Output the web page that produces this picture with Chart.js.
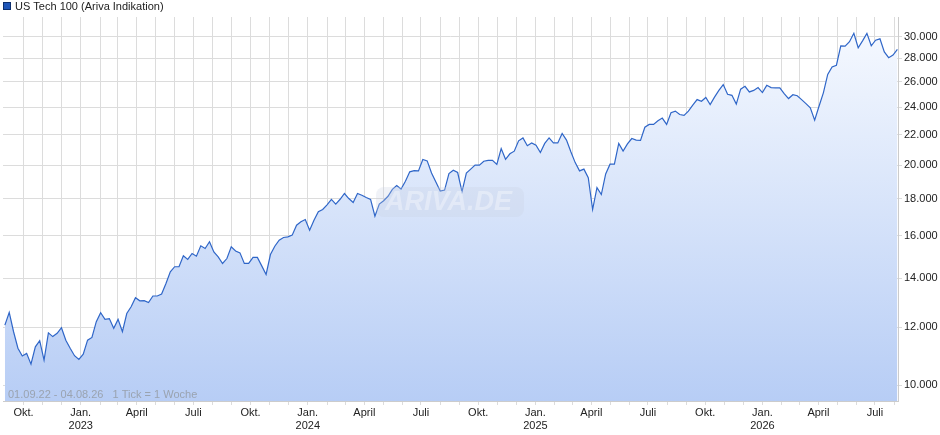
<!DOCTYPE html>
<html><head><meta charset="utf-8">
<script src="https://cdn.jsdelivr.net/npm/chart.js@4/dist/chart.umd.min.js"></script>
<style>html,body{margin:0;padding:0;background:#fff}#w{width:940px;height:435px}</style>
</head><body><div id="w"><canvas id="c"></canvas></div>
<script>
const startDate = '2022-09-01';
const weekStepDays = 7;
const values = [12080,12570,11830,11230,10960,11050,10680,11280,11500,10820,11790,11650,11770,11980,11520,11230,10970,10840,11020,11520,11620,12210,12560,12300,12330,11960,12300,11830,12530,12800,13170,13040,13050,12970,13240,13240,13320,13770,14290,14520,14520,15030,14860,15140,15010,15510,15380,15710,15210,14980,14670,14900,15460,15260,15170,14670,14670,14950,14950,14560,14170,15090,15490,15790,15920,15950,16040,16550,16730,16850,16290,16810,17270,17390,17650,17950,17690,17960,18290,18000,17780,18290,18190,18060,17950,17030,17690,17880,18130,18530,18750,18550,19010,19580,19660,19640,20360,20270,19510,18970,18430,18490,19480,19680,19540,18400,19510,19750,20000,20000,20250,20300,20300,20040,21070,20370,20730,20900,21590,21790,21260,21450,21290,20810,21420,21790,21450,21450,22100,21640,20860,20160,19640,19750,19220,17390,18630,18230,19450,20060,20060,21420,20900,21380,21750,21640,21620,22540,22740,22740,23000,23200,22740,23590,23710,23460,23390,23710,24170,24590,24460,24750,24210,24780,25310,25780,25000,24920,24240,25410,25640,25190,25310,25540,25140,25720,25540,25510,25510,25060,24670,24970,24890,24590,24280,23960,23050,24080,25120,26620,27260,27400,29130,29100,29510,30300,28950,29590,30300,29130,29650,29780,28570,28060,28290,28810];
const yTicks = [10000,12000,14000,16000,18000,20000,22000,24000,26000,28000,30000];
const monthNames = ['Jan.','Feb.','März','April','Mai','Juni','Juli','Aug.','Sep.','Okt.','Nov.','Dez.'];
const labeledMonths = [0,3,6,9];
const seriesName = 'US Tech 100 (Ariva Indikation)';
const rangeText = '01.09.22 - 04.08.26   1 Tick = 1 Woche';

const t0 = Date.UTC(2022,8,1);
const pts = values.map((v,i)=>({x:i*weekStepDays, y:v}));
const monthTicks = [];
for(let y=2022;y<=2026;y++)for(let m=0;m<12;m++){
  const d=(Date.UTC(y,m,1)-t0)/86400000;
  if(d>0&&d<1440) monthTicks.push({value:d, m, y});
}
const deco = {
  id:'deco',
  beforeDraw(ch){
    const c=ch.ctx;c.save();c.fillStyle='#fff';c.fillRect(0,0,ch.width,ch.height);c.restore();
  },
  afterDatasetsDraw(ch){
    const c=ch.ctx, a=ch.chartArea;
    c.save();
    c.fillStyle='rgba(200,210,228,0.28)';
    c.beginPath();c.roundRect(376,187,148,30,8);c.fill();
    c.font='bold italic 27px "Liberation Sans", Arial';
    c.fillStyle='rgba(255,255,255,0.35)';
    c.textBaseline='middle';
    c.fillText('ARIVA.DE',385,203);
    c.font='11px "Liberation Sans", Arial';
    c.fillStyle='#9aa3b0';
    c.fillText(rangeText,a.left+5,a.bottom-6);
    c.fillStyle='#1f56b8';c.fillRect(3,2,8,8);
    c.strokeStyle='#0d2f6e';c.lineWidth=1;c.strokeRect(3.5,2.5,7,7);
    c.fillStyle='#222';c.fillText(seriesName,15,6.5);
    c.restore();
  }
};
new Chart(document.getElementById('c'),{
  type:'line',
  data:{datasets:[{label:seriesName,data:pts,borderColor:'#2f66c8',borderWidth:1.2,pointRadius:0,tension:0,
    fill:'start',
    backgroundColor(ctx){const a=ctx.chart.chartArea;if(!a)return '#dbe7fb';
      const g=ctx.chart.ctx.createLinearGradient(0,a.top,0,a.bottom);
      g.addColorStop(0,'#f7faff');g.addColorStop(1,'#b7cdf5');return g;}}]},
  options:{responsive:true,maintainAspectRatio:false,animation:false,
    layout:{padding:{top:17,left:3,right:0,bottom:0}},
    plugins:{legend:{display:false},tooltip:{enabled:false}},
    scales:{
      x:{type:'linear',min:-3,max:1436,
        afterBuildTicks(ax){ax.ticks=monthTicks.map(t=>({value:t.value}));},
        afterFit(ax){ax.height=34;},
        grid:{color:'#dcdcdc',drawTicks:true,tickLength:4,tickColor:'#dcdcdc'},
        border:{color:'#cccccc'},
        ticks:{autoSkip:false,maxRotation:0,padding:1,color:'#222',font:{family:'"Liberation Sans", Arial',size:11},
          callback(v,i){const t=monthTicks[i];if(!t||!labeledMonths.includes(t.m))return '';
            return t.m===0?[monthNames[0],String(t.y)]:monthNames[t.m];}}},
      y:{type:'logarithmic',position:'right',min:9510,max:31900,
        afterBuildTicks(ax){ax.ticks=yTicks.map(v=>({value:v}));},
        afterFit(ax){ax.width=42;},
        grid:{color:'#dcdcdc',tickLength:4},
        border:{color:'#cccccc'},
        ticks:{padding:2,color:'#222',font:{family:'"Liberation Sans", Arial',size:11},
          callback(v){return v.toLocaleString('de-DE');}}}
    }},
  plugins:[deco]
});
</script></body></html>
